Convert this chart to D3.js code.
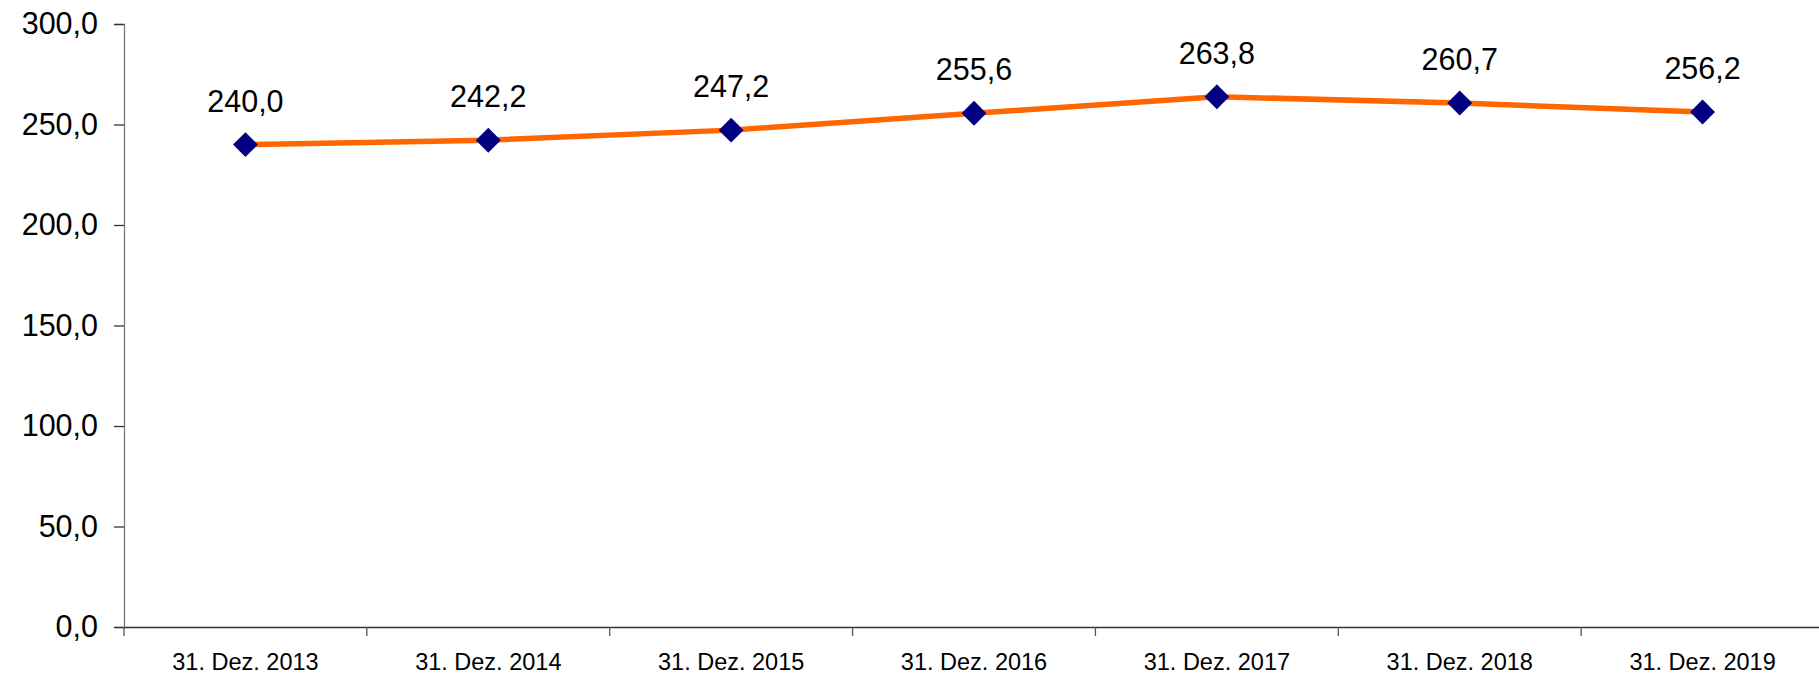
<!DOCTYPE html>
<html>
<head>
<meta charset="utf-8">
<script src="https://cdn.jsdelivr.net/npm/d3@7"></script>
<style>
  body { margin: 0; background: #fff; }
  svg { display: block; font-family: "Liberation Sans", Arial, sans-serif; }
</style>
</head>
<body>
<script>
'use strict';

// chart data
const categories = ["31. Dez. 2013", "31. Dez. 2014", "31. Dez. 2015", "31. Dez. 2016",
                    "31. Dez. 2017", "31. Dez. 2018", "31. Dez. 2019"];
const values = [240.0, 242.2, 247.2, 255.6, 263.8, 260.7, 256.2];
const yTicks = [0, 50, 100, 150, 200, 250, 300];

const width = 1819, height = 679;
const fmt = (v) => v.toFixed(1).replace(".", ",");

const svg = d3.select("body").append("svg")
  .attr("width", width)
  .attr("height", height);

// scales
const x = d3.scaleBand()
  .domain(categories)
  .range([124, 1824]);

const y = d3.scaleLinear()
  .domain([0, 300])
  .range([627, 24]);

// y axis
const yAxis = d3.axisLeft(y)
  .tickValues(yTicks)
  .tickFormat(fmt)
  .tickSize(10)
  .tickPadding(16);

const gy = svg.append("g")
  .attr("transform", "translate(124,0)")
  .call(yAxis);
gy.select(".domain").attr("stroke", "#777").attr("stroke-width", 1.3);
gy.selectAll(".tick line").attr("stroke", "#333").attr("stroke-width", 1.3);
gy.selectAll(".tick text")
  .attr("fill", "#000")
  .style("font-size", "30.5px");

// x axis with ticks at band edges
const xAxis = d3.axisBottom(x).tickSize(0).tickPadding(26);
const gx = svg.append("g")
  .attr("transform", "translate(0,627)")
  .call(xAxis);
gx.select(".domain").attr("stroke", "#333").attr("stroke-width", 1.3);
gx.selectAll(".tick text")
  .attr("fill", "#000")
  .style("font-size", "23.5px");

gx.selectAll(".edge")
  .data(categories)
  .enter()
  .append("line")
    .attr("class", "edge")
    .attr("x1", (d) => x(d))
    .attr("x2", (d) => x(d))
    .attr("y1", 0)
    .attr("y2", 9)
    .attr("stroke", "#555")
    .attr("stroke-width", 1.3);

// line
const cx = (d, i) => x(categories[i]) + x.bandwidth() / 2;
const line = d3.line()
  .x(cx)
  .y((d) => y(d));

svg.append("path")
  .datum(values)
  .attr("fill", "none")
  .attr("stroke", "#FF6600")
  .attr("stroke-width", 5.5)
  .attr("d", line);

// diamond markers
svg.selectAll(".marker")
  .data(values)
  .enter()
  .append("path")
    .attr("class", "marker")
    .attr("d", d3.symbol().type(d3.symbolSquare).size(310))
    .attr("transform", (d, i) => "translate(" + cx(d, i) + "," + y(d) + ") rotate(45)")
    .attr("fill", "#000080");

// data labels
svg.selectAll(".label")
  .data(values)
  .enter()
  .append("text")
    .attr("class", "label")
    .attr("x", cx)
    .attr("y", (d) => y(d) - 33)
    .attr("text-anchor", "middle")
    .style("font-size", "30.5px")
    .text(fmt);
</script>
</body>
</html>
